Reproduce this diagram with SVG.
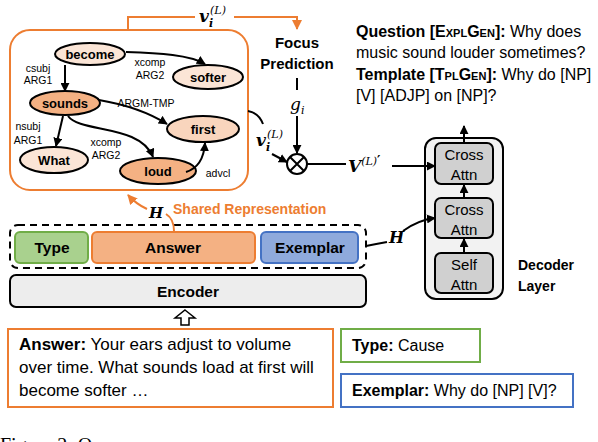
<svg xmlns="http://www.w3.org/2000/svg" width="598" height="442" viewBox="0 0 598 442">
<style>
text{font-family:"Liberation Sans",Arial,sans-serif;fill:#000}
.b{font-weight:bold}
.node{stroke:#000;stroke-width:2}
.lt{fill:#fbe5d6}
.dk{fill:#f4b183}
.md{fill:#f9d5bd}
.nl{font-size:13px;font-weight:bold;text-anchor:middle}
.el{font-size:10.5px;text-anchor:middle}
.edge{fill:none;stroke:#000;stroke-width:2}
.oedge{fill:none;stroke:#ed7d31;stroke-width:2}
.math{font-family:"DejaVu Serif","Liberation Serif",serif;font-style:italic;font-weight:bold}
.sup{font-weight:normal}
.nb{font-weight:normal}
.blk{fill:#d0d0d0;stroke:#000;stroke-width:2}
.bt{font-size:15px;text-anchor:middle}
.bx{font-size:15.5px;font-weight:bold;text-anchor:middle}
.tx{font-size:16px}
.ta{font-size:17px}
</style>
<defs>
<marker id="ah" viewBox="0 0 10 10" refX="9" refY="5" markerWidth="9" markerHeight="9" markerUnits="userSpaceOnUse" orient="auto"><path d="M0,0 L10,5 L0,10 z" fill="#000"/></marker>
<marker id="aho" viewBox="0 0 10 10" refX="9" refY="5" markerWidth="10" markerHeight="10" markerUnits="userSpaceOnUse" orient="auto"><path d="M0,0 L10,5 L0,10 z" fill="#ed7d31"/></marker>
</defs>

<g id="graph-container">
<rect x="10" y="30" width="238" height="160" rx="20" fill="#fff" stroke="#ed7d31" stroke-width="2"/>
</g>

<g id="node-become"><ellipse class="node lt" cx="90" cy="54" rx="35" ry="11"/><text class="nl" x="90" y="59">become</text></g>
<g id="node-softer"><ellipse class="node lt" cx="208" cy="77" rx="35" ry="12"/><text class="nl" x="208" y="82">softer</text></g>
<g id="node-sounds"><ellipse class="node dk" cx="65" cy="103" rx="35" ry="12"/><text class="nl" x="65" y="108">sounds</text></g>
<g id="node-first"><ellipse class="node md" cx="203" cy="129" rx="36" ry="13"/><text class="nl" x="203" y="134">first</text></g>
<g id="node-what"><ellipse class="node lt" cx="54" cy="160" rx="34" ry="13"/><text class="nl" x="54" y="165">What</text></g>
<g id="node-loud"><ellipse class="node dk" cx="158" cy="171" rx="38" ry="13"/><text class="nl" x="158" y="176">loud</text></g>

<g id="edge-labels">
<text class="el" x="38" y="72">csubj</text>
<text class="el" x="38" y="84">ARG1</text>
<text class="el" x="150" y="66">xcomp</text>
<text class="el" x="150" y="79">ARG2</text>
<text class="el" x="146" y="107">ARGM-TMP</text>
<text class="el" x="28" y="130">nsubj</text>
<text class="el" x="28" y="144">ARG1</text>
<text class="el" x="106" y="146">xcomp</text>
<text class="el" x="106" y="159">ARG2</text>
<text class="el" x="218" y="177">advcl</text>
</g>

<g id="focus-prediction">
<text class="b" x="297" y="48" font-size="15" text-anchor="middle">Focus</text>
<text class="b" x="297" y="69" font-size="15" text-anchor="middle">Prediction</text>
</g>

<g id="mult">
<circle cx="297" cy="164" r="10" fill="#fff" stroke="#000" stroke-width="2"/>
<path d="M290,157 L304,171 M304,157 L290,171" stroke="#000" stroke-width="2"/>
</g>

<g id="question-text">
<text class="tx" x="356" y="37"><tspan class="b">Question [<tspan style="font-variant:small-caps">ExplGen</tspan>]:</tspan> Why does</text>
<text class="tx" x="356" y="58">music sound louder sometimes?</text>
<text class="tx" x="356" y="80"><tspan class="b">Template [<tspan style="font-variant:small-caps">TplGen</tspan>]:</tspan> Why do [NP]</text>
<text class="tx" x="356" y="101">[V] [ADJP] on [NP]?</text>
</g>

<g id="decoder">
<rect x="425" y="138" width="78" height="161" rx="11" fill="#f2f2f2" stroke="#000" stroke-width="2"/>
<g id="cross-attn-2"><rect class="blk" x="435" y="143" width="58" height="41" rx="6"/>
<text class="bt" x="464" y="160">Cross</text><text class="bt" x="464" y="180">Attn</text></g>
<g id="cross-attn-1"><rect class="blk" x="435" y="198" width="58" height="40" rx="6"/>
<text class="bt" x="464" y="215">Cross</text><text class="bt" x="464" y="235">Attn</text></g>
<g id="self-attn"><rect class="blk" x="435" y="253" width="58" height="40" rx="6"/>
<text class="bt" x="464" y="270">Self</text><text class="bt" x="464" y="290">Attn</text></g>
<text class="b" x="518" y="270" font-size="14">Decoder</text>
<text class="b" x="518" y="291" font-size="14">Layer</text>
</g>

<g id="shared-representation">
<text class="b" x="173" y="214" font-size="14" style="fill:#ed7d31">Shared Representation</text>
</g>

<g id="input-group">
<rect x="10" y="225" width="356" height="43" rx="8" fill="none" stroke="#000" stroke-width="2" stroke-dasharray="7 5"/>
<g id="type-box"><rect x="15" y="232" width="73" height="31" rx="5" fill="#a9d18e" stroke="#70ad47" stroke-width="2"/><text class="bx" x="52" y="253">Type</text></g>
<g id="answer-box"><rect x="92" y="232" width="163" height="31" rx="5" fill="#f4b183" stroke="#ed7d31" stroke-width="2"/><text class="bx" x="173" y="253">Answer</text></g>
<g id="exemplar-box"><rect x="261" y="232" width="97" height="31" rx="5" fill="#8faadc" stroke="#4472c4" stroke-width="2"/><text class="bx" x="310" y="253">Exemplar</text></g>
</g>

<g id="encoder">
<rect x="10" y="275" width="356" height="32" rx="6" fill="#ededed" stroke="#000" stroke-width="2"/>
<text class="bx" x="188" y="297">Encoder</text>
</g>

<g id="answer-input">
<rect x="8" y="329" width="325" height="78" fill="#fff" stroke="#ed7d31" stroke-width="2"/>
<text class="ta" x="19" y="350"><tspan class="b">Answer:</tspan> Your ears adjust to volume</text>
<text class="ta" x="19" y="373">over time. What sounds load at first will</text>
<text class="ta" x="19" y="396">become softer …</text>
</g>

<g id="type-input">
<rect x="341" y="329" width="139" height="33" fill="#fff" stroke="#70ad47" stroke-width="2"/>
<text class="tx" x="352" y="351"><tspan class="b">Type:</tspan> Cause</text>
</g>

<g id="exemplar-input">
<rect x="341" y="374" width="232" height="33" fill="#fff" stroke="#4472c4" stroke-width="2"/>
<text class="tx" x="352" y="396"><tspan class="b">Exemplar:</tspan> Why do [NP] [V]?</text>
</g>

<g id="connectors">
<path class="edge" d="M65,65 L65,91" marker-end="url(#ah)"/>
<path class="edge" d="M126,52 C160,53 190,55 205,64" marker-end="url(#ah)"/>
<path class="edge" d="M99,100 Q140,107 167,124" marker-end="url(#ah)"/>
<path class="edge" d="M63,116 L56,146" marker-end="url(#ah)"/>
<path class="edge" d="M68,116 C80,133 140,124 153,157" marker-end="url(#ah)"/>
<path class="edge" d="M186,172 C199,168 204,158 205,143" marker-end="url(#ah)"/>
<path class="oedge" d="M128,30 V17 H195"/>
<path class="oedge" d="M234,17 H297 V29" marker-end="url(#aho)"/>
<path class="edge" d="M297,78 V90"/>
<path class="edge" d="M297,116 V153" marker-end="url(#ah)"/>
<path class="edge" d="M248,111 Q259,113 263,124"/>
<path class="edge" d="M272,154 L287,162" marker-end="url(#ah)"/>
<path class="edge" d="M307,164 H346"/>
<path class="edge" d="M392,166 H435" marker-end="url(#ah)"/>
<path class="edge" d="M464,253 V239" marker-end="url(#ah)"/>
<path class="edge" d="M464,198 V185" marker-end="url(#ah)"/>
<path class="edge" d="M464,143 V126" marker-end="url(#ah)"/>
<path class="edge" d="M366,246 Q376,244 387,242"/>
<path class="edge" d="M403,231 Q418,220 435,218" marker-end="url(#ah)"/>
<path class="oedge" d="M174,231 Q174,219 166,214"/>
<path class="oedge" d="M147,209 Q136,204 128,195" marker-end="url(#aho)"/>
<path d="M185,310 L195,318 L189,318 L189,325 L181,325 L181,318 L175,318 Z" fill="#fff" stroke="#000" stroke-width="1.5"/>
</g>

<g id="math-labels">
<text class="math" x="199" y="22" font-size="17">v<tspan font-size="11" dy="5">i</tspan><tspan class="sup" font-size="11" dx="-3" dy="-13">(L)</tspan></text>
<text class="math" x="256" y="146" font-size="17">v<tspan font-size="11" dy="5">i</tspan><tspan class="sup" font-size="11" dx="-3" dy="-13">(L)</tspan></text>
<text class="math nb" x="290" y="110" font-size="17">g<tspan font-size="11" dy="4">i</tspan></text>
<text class="math" x="348" y="172" font-size="17">V<tspan class="sup" font-size="11" dy="-7">(L)</tspan><tspan font-size="13" style="font-style:normal">′</tspan></text>
<text class="math" x="389" y="243" font-size="16">H</text>
<text class="math" x="149" y="218" font-size="15">H</text>
</g>

<text x="0" y="452" font-size="20" style="font-family:'Liberation Serif',serif">Figure 2: Our</text>
</svg>
